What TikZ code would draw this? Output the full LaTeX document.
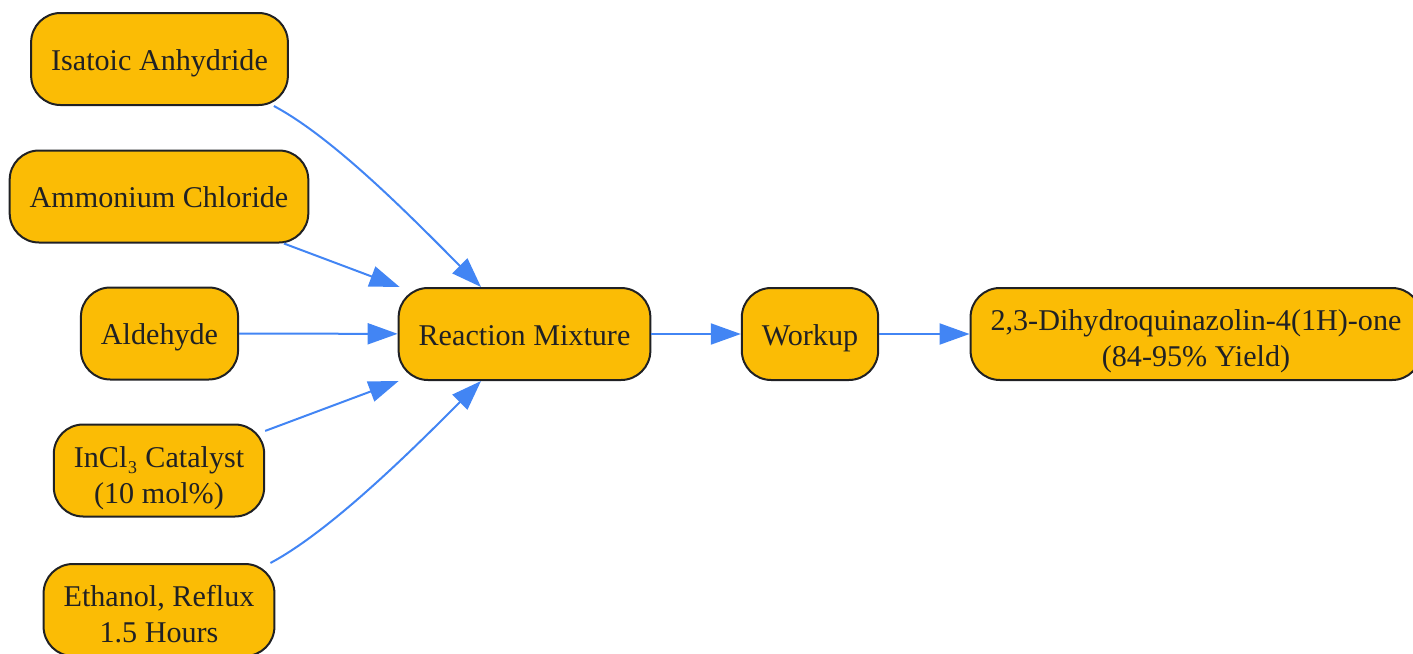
\documentclass[tikz,border=0pt]{standalone}
\usepackage{fontspec}
\setmainfont{Liberation Serif}
\usetikzlibrary{arrows.meta}

\definecolor{boxfill}{HTML}{FBBC05}
\definecolor{boxline}{HTML}{202124}
\definecolor{flowblue}{HTML}{4285F4}

\newcommand\firstln{\rule{0pt}{28pt}}
\newcommand\lastln{\rule[-6pt]{0pt}{6pt}}

\tikzset{every picture/.style={line width=0.75pt}}
\tikzset{
  basebox/.style={draw=boxline, line width=1.5pt, fill=boxfill, rounded corners=22pt,
    text=boxline, align=center, minimum height=69pt, inner xsep=15pt, inner ysep=0pt,
    font=\fontsize{22.6pt}{27pt}\selectfont},
  stepbox/.style={basebox,
    execute at begin node={\rule{0pt}{22.5pt}},
    execute at end node={\rule[-6pt]{0pt}{6pt}}},
  flow/.style={draw=flowblue, line width=1.5pt, -{Triangle[length=22.5pt,width=15.75pt]}, flowblue}
}

\begin{document}
\begin{tikzpicture}[x=0.75pt,y=0.75pt,yscale=-1,xscale=1]
\useasboundingbox (0,0) rectangle (1413,653);

% inputs
\node[stepbox] (isatoic) at (159.5,59) {Isatoic Anhydride};
\node[stepbox] (ammonium) at (159,196.5) {Ammonium Chloride};
\node[stepbox] (aldehyde) at (159.5,333.5) {Aldehyde};
\node[basebox] (catalyst) at (159,470.5) {\firstln InCl₃ Catalyst\\(10 mol\%)\lastln};
\node[basebox] (solvent) at (159,610) {\firstln Ethanol, Reflux\\1.5 Hours\lastln};

% main line
\node[stepbox] (mixture) at (524.5,334) {Reaction Mixture};
\node[stepbox] (workup) at (810,334) {Workup};
\node[basebox] (product) at (1196,334) {\firstln 2,3-Dihydroquinazolin-4(1H)-one\\(84-95\% Yield)\lastln};

\draw[flow] ([xshift=-11.25pt]isatoic.south east) .. controls +(62,33) and +(-64,-64) .. ([xshift=-32.6pt]mixture.north);
\draw[flow] (ammonium) -- (mixture);
\draw[flow] (aldehyde) -- (mixture);
\draw[flow] (catalyst) -- (mixture);
\draw[flow] ([xshift=-3.75pt]solvent.north east) .. controls +(62,-33) and +(-64,64) .. ([xshift=-32.6pt]mixture.south);

\draw[flow] (mixture) -- (workup);
\draw[flow] (workup) -- (product);

\end{tikzpicture}
\end{document}
